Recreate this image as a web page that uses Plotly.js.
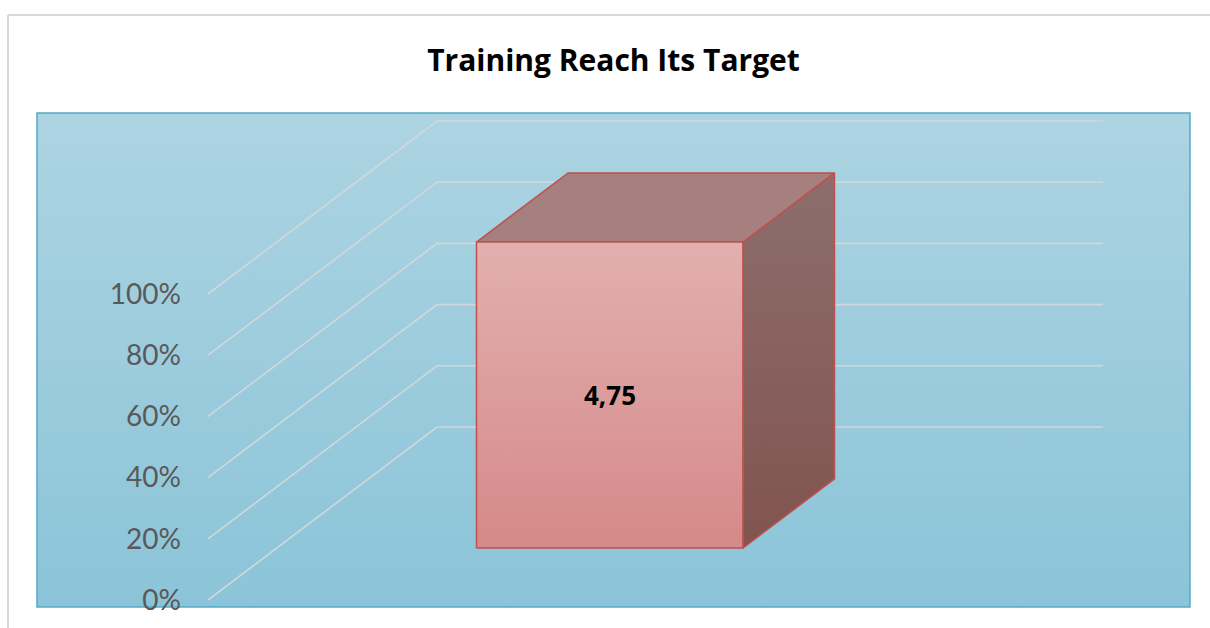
<!DOCTYPE html>
<html>
<head>
<meta charset="utf-8">
<script src="https://cdn.plot.ly/plotly-3.0.1.min.js"></script>
<style>html,body{margin:0;padding:0;background:#fff;}#chart{width:1210px;height:628px;}</style>
</head>
<body>
<div id="chart"></div>
<script>
// ---- data ----
const categories = ['Training'];
const values = [4.75];
const yTicks = [0, 20, 40, 60, 80, 100];
const yTickSuffix = '%';
const chartTitle = 'Training Reach Its Target';

// ---- 3D oblique projection settings (styles / geometry, not data) ----
const DX = 229 / 666;      // x shift per unit depth (in category-width units)
const DY = 173 / 3.06;     // y shift per unit depth (in percent units)
const gapWidth = 1.5;      // bar gap width 150%
const depthFront = 0.3, depthBack = 0.7;

function proj(x, y, d) { return [x + DX * d, y + DY * d]; }

const traces = [];

// gridlines: side wall diagonal + back wall horizontal
const gx = [], gy = [];
yTicks.forEach(t => {
  [[0, t, 0], [0, t, 1], [1, t, 1]].forEach(p => {
    const q = proj(p[0], p[1], p[2]); gx.push(q[0]); gy.push(q[1]);
  });
  gx.push(null); gy.push(null);
});
traces.push({x: gx, y: gy, mode: 'lines', line: {color: '#D0D8DB', width: 1.6},
  hoverinfo: 'skip', showlegend: false});

// bars (100% stacked, single series)
const total = values.reduce((a, b) => a + b, 0);
const n = categories.length;
const annotations = [];
categories.forEach((c, i) => {
  const share = values[i] / total * 100;
  const w = 1 / n / (1 + gapWidth);
  const cx = (i + 0.5) / n;
  const x0 = cx - w / 2, x1 = cx + w / 2;
  const d0 = depthFront, d1 = depthBack;
  const poly = pts => {
    const xs = [], ys = [];
    pts.forEach(p => { const q = proj(p[0], p[1], p[2]); xs.push(q[0]); ys.push(q[1]); });
    xs.push(xs[0]); ys.push(ys[0]);
    return {x: xs, y: ys};
  };
  const front = poly([[x0, 0, d0], [x1, 0, d0], [x1, share, d0], [x0, share, d0]]);
  const top = poly([[x0, share, d0], [x1, share, d0], [x1, share, d1], [x0, share, d1]]);
  const side = poly([[x1, 0, d0], [x1, 0, d1], [x1, share, d1], [x1, share, d0]]);
  traces.push(Object.assign({mode: 'lines', fill: 'toself', fillcolor: '#845A57',
    fillgradient: {type: 'vertical', colorscale: [[0, '#815450'], [1, '#8D6E6C']]},
    line: {color: '#C0504D', width: 1.5}, hoverinfo: 'skip', showlegend: false}, side));
  traces.push(Object.assign({mode: 'lines', fill: 'toself', fillcolor: '#A5807E',
    line: {color: '#C0504D', width: 1.5}, hoverinfo: 'skip', showlegend: false}, top));
  traces.push(Object.assign({mode: 'lines', fill: 'toself', fillcolor: '#DB9C9B',
    fillgradient: {type: 'vertical', colorscale: [[0, '#D58988'], [1, '#E2B0AF']]},
    line: {color: '#C0504D', width: 1.5}, hoverinfo: 'skip', showlegend: false}, front));
  const lc = proj(cx, share / 2, d0);
  annotations.push({x: lc[0], y: lc[1], xref: 'x', yref: 'y', showarrow: false,
    text: values[i].toFixed(2).replace('.', ','),
    font: {family: 'Open Sans, sans-serif', size: 26, color: '#000', weight: 'bold'}});
});

// ranges so the plot area maps to the reference's pixel frame
const xRange = [-171 / 666, 982 / 666];
const yRange = [-7 / 3.06, 487 / 3.06];

const bgSvg = "<svg xmlns='http://www.w3.org/2000/svg' viewBox='0 0 100 100' width='100' height='100' preserveAspectRatio='none'>" +
  "<defs><linearGradient id='g' x1='0' y1='0' x2='0' y2='1'><stop offset='0' stop-color='#ADD4E2'/>" +
  "<stop offset='1' stop-color='#8BC4D8'/></linearGradient></defs><rect width='100' height='100' fill='url(#g)'/></svg>";

const layout = {
  width: 1210, height: 628,
  margin: {l: 37, r: 20, t: 113, b: 21, pad: 0},
  paper_bgcolor: '#ffffff', plot_bgcolor: '#9CCCDD',
  showlegend: false,
  title: {text: '<b>' + chartTitle + '</b>', x: 0.5, xref: 'paper', xanchor: 'center',
    y: 1 - 60 / 628, yref: 'container', yanchor: 'middle',
    font: {family: 'Open Sans, sans-serif', size: 30, color: '#000'}},
  xaxis: {range: xRange, visible: false, fixedrange: true},
  yaxis: {range: yRange, anchor: 'free', position: 171 / 1153, tickvals: yTicks,
    ticktext: yTicks.map(t => t + yTickSuffix), showgrid: false, zeroline: false,
    showline: false, ticks: '', ticklabelstandoff: 27, fixedrange: true,
    tickfont: {family: 'Lato, sans-serif', size: 28, color: '#595959'}},
  images: [{source: 'data:image/svg+xml;charset=utf-8,' + encodeURIComponent(bgSvg),
    xref: 'paper', yref: 'paper', x: 0, y: 1, sizex: 1, sizey: 1,
    sizing: 'stretch', xanchor: 'left', yanchor: 'top', layer: 'below'}],
  shapes: [
    {type: 'rect', xref: 'paper', yref: 'paper', x0: 0, x1: 1, y0: 0, y1: 1,
      line: {color: '#55ABC5', width: 1.5}, layer: 'below'},
    {type: 'line', xref: 'paper', yref: 'paper', x0: -29 / 1153, x1: 1.05, y0: 592 / 494, y1: 592 / 494,
      line: {color: '#D9D9D9', width: 2}},
    {type: 'line', xref: 'paper', yref: 'paper', x0: -29 / 1153, x1: -29 / 1153, y0: 592 / 494, y1: -0.1,
      line: {color: '#D9D9D9', width: 2}}
  ],
  annotations: annotations
};

Plotly.newPlot('chart', traces, layout, {displayModeBar: false, staticPlot: true});
</script>
</body>
</html>
